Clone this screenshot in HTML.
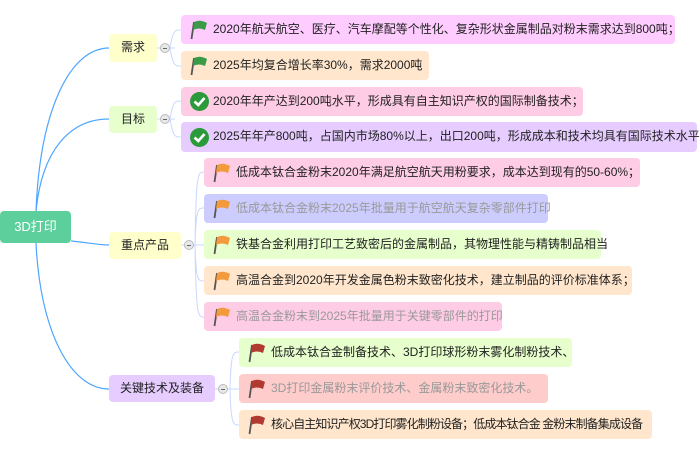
<!DOCTYPE html>
<html><head><meta charset="utf-8"><style>
body{margin:0;width:700px;height:455px;background:#fff;position:relative;overflow:hidden;font-family:"Liberation Sans","Noto Sans CJK SC",sans-serif;}
.n{position:absolute;box-sizing:border-box;border-radius:4px;font-size:12px;line-height:29px;white-space:nowrap;color:#222;}
.b{text-align:center;line-height:27px;font-size:12px;}
.l{padding-left:32px;}
.g{color:#999;}
.ic{position:absolute;left:9px;top:5px;}
.c{position:absolute;width:10px;height:10px;border-radius:50%;background:#e8e8e8;border:1px solid #bbb;box-sizing:border-box;}
.c::after{content:"";position:absolute;left:2px;top:4px;width:4px;height:1px;background:#666;}
</style></head><body>
<svg width="700" height="455" style="position:absolute;left:0;top:0">
<g fill="none" stroke="#4da6ff" stroke-width="1.2">
<path d="M36 211 C40 110 70 48 109 48"/>
<path d="M36 211 C42 150 70 119 109 119"/>
<path d="M71 241 C90 243 100 245 109 245"/>
<path d="M36 243 C40 330 70 389 109 389"/>
</g>
<g fill="none" stroke="#c8d8ff" stroke-width="1">
<path d="M157 48 H175 M170 48 C173 30 175 30 181 30 M170 48 C173 66 175 66 181 66"/>
<path d="M157 119 H175 M170 119 C173 101 175 101 181 101 M170 119 C173 137 175 137 181 137"/>
<path d="M181 245 H195 M195 245 C196 172 198 172 204 172 M195 245 C196 208 198 208 204 208 M195 245 H204 M195 245 C196 281 198 281 204 281 M195 245 C196 317 198 317 204 317"/>
<path d="M215 389 H230 M230 389 C231 352 233 352 239 352 M230 389 H239 M230 389 C231 425 233 425 239 425"/>
</g>
</svg>
<div class="n" style="left:0;top:211px;width:71px;height:32px;background:#5ccf9c;color:#fff;text-align:center;line-height:32px;font-size:13px">3D打印</div>
<div class="n b" style="left:109px;top:34px;width:48px;height:28px;background:#ffffcc">需求</div>
<div class="c" style="left:160px;top:43px"></div>
<div class="n b" style="left:109px;top:106px;width:48px;height:27px;background:#e6ffcc">目标</div>
<div class="c" style="left:160px;top:114px"></div>
<div class="n b" style="left:109px;top:232px;width:72px;height:27px;background:#ffffcc">重点产品</div>
<div class="c" style="left:184px;top:240px"></div>
<div class="n b" style="left:109px;top:375px;width:106px;height:27px;background:#e6ccff">关键技术及装备</div>
<div class="c" style="left:218px;top:384px"></div>

<svg width="0" height="0" style="position:absolute"><defs>
<g id="fg"><path d="M4 2 L1.5 19" stroke="#555" stroke-width="1.8"/><path d="M4 2 Q10 -1 17 3 L15 10 Q9 7 3 10 Z" fill="#3a9a48"/></g>
<g id="fo"><path d="M4 2 L1.5 19" stroke="#555" stroke-width="1.8"/><path d="M4 2 Q10 -1 17 3 L15 10 Q9 7 3 10 Z" fill="#f39a3c"/></g>
<g id="fr"><path d="M4 2 L1.5 19" stroke="#555" stroke-width="1.8"/><path d="M4 2 Q10 -1 17 3 L15 10 Q9 7 3 10 Z" fill="#b03a30"/></g>
<g id="ck"><circle cx="9.5" cy="9.5" r="9.5" fill="#2a9a3a"/><path d="M4.5 9.5 L8.3 13 L14.5 6" stroke="#fff" stroke-width="2.6" fill="none"/></g>
</defs></svg>

<div class="n l" style="left:181px;top:15px;width:494px;height:29px;background:#ffccff"><svg class="ic" width="19" height="20"><use href="#fg"/></svg>2020年航天航空、医疗、汽车摩配等个性化、复杂形状金属制品对粉末需求达到800吨；</div>
<div class="n l" style="left:181px;top:51px;width:248px;height:29px;background:#ffe6cc"><svg class="ic" width="19" height="20"><use href="#fg"/></svg>2025年均复合增长率30%，需求2000吨</div>
<div class="n l" style="left:181px;top:87px;width:402px;height:29px;background:#ffcce6"><svg class="ic" width="19" height="19"><use href="#ck"/></svg>2020年年产达到200吨水平，形成具有自主知识产权的国际制备技术；</div>
<div class="n l" style="left:181px;top:122px;width:516px;height:30px;background:#e6ccff"><svg class="ic" width="19" height="19" style="top:6px"><use href="#ck"/></svg>2025年年产800吨，占国内市场80%以上，出口200吨，形成成本和技术均具有国际技术水平</div>

<div class="n l" style="left:204px;top:158px;width:436px;height:29px;background:#ffcce6"><svg class="ic" width="19" height="20"><use href="#fo"/></svg>低成本钛合金粉末2020年满足航空航天用粉要求，成本达到现有的50-60%；</div>
<div class="n l g" style="left:204px;top:194px;width:344px;height:29px;background:#ccccff"><svg class="ic" width="19" height="20"><use href="#fo"/></svg>低成本钛合金粉末2025年批量用于航空航天复杂零部件打印</div>
<div class="n l" style="left:204px;top:230px;width:397px;height:29px;background:#e6ffcc"><svg class="ic" width="19" height="20"><use href="#fo"/></svg>铁基合金利用打印工艺致密后的金属制品，其物理性能与精铸制品相当</div>
<div class="n l" style="left:204px;top:266px;width:428px;height:29px;background:#ffe6cc"><svg class="ic" width="19" height="20"><use href="#fo"/></svg>高温合金到2020年开发金属色粉末致密化技术，建立制品的评价标准体系；</div>
<div class="n l g" style="left:204px;top:302px;width:298px;height:29px;background:#ffcce6"><svg class="ic" width="19" height="20"><use href="#fo"/></svg>高温合金粉末到2025年批量用于关键零部件的打印</div>

<div class="n l" style="left:239px;top:338px;width:333px;height:29px;background:#e6ffcc"><svg class="ic" width="19" height="20"><use href="#fr"/></svg>低成本钛合金制备技术、3D打印球形粉末雾化制粉技术、</div>
<div class="n l g" style="left:239px;top:374px;width:309px;height:29px;background:#ffcccc"><svg class="ic" width="19" height="20"><use href="#fr"/></svg>3D打印金属粉末评价技术、金属粉末致密化技术。</div>
<div class="n l" style="left:239px;top:410px;width:413px;height:29px;background:#ffe6cc;letter-spacing:-0.9px"><svg class="ic" width="19" height="20"><use href="#fr"/></svg>核心自主知识产权3D打印雾化制粉设备；低成本钛合金 金粉末制备集成设备</div>
</body></html>
